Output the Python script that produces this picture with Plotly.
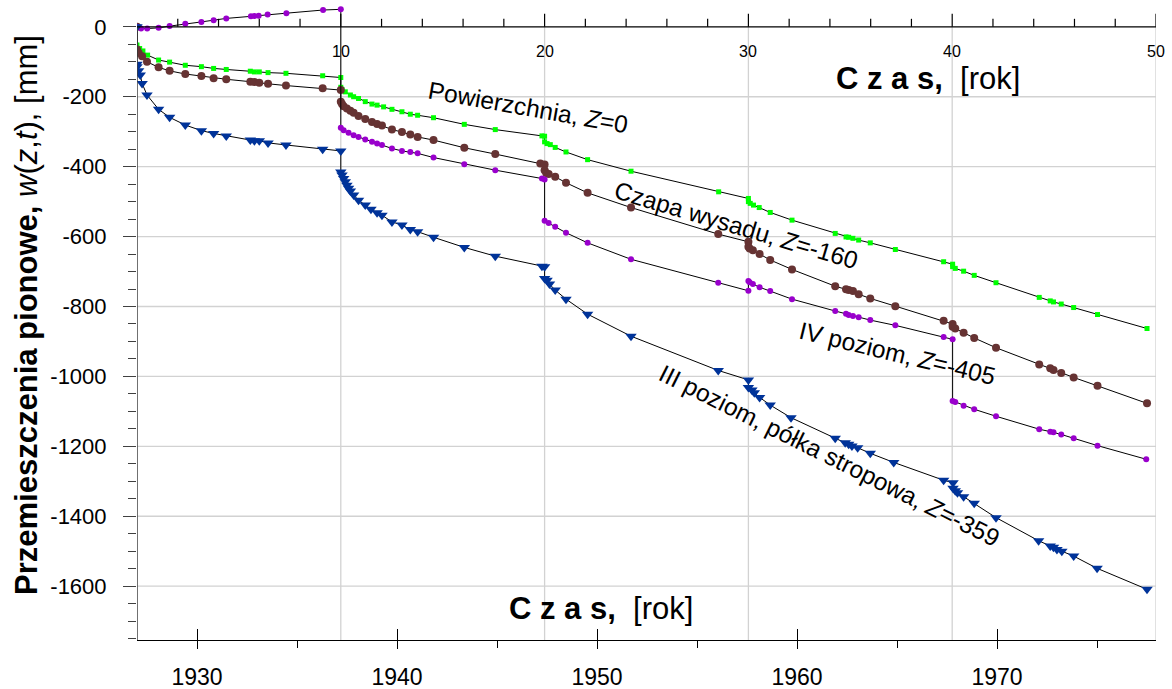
import plotly.graph_objects as go

# ---------------- data (t = years since start, w = vertical displacement [mm]) -------------
t_pow = [0, 0.0, 0.13, 0.29, 0.52, 1.06, 1.6, 2.37, 3.16, 3.76, 4.38, 5.56, 5.76, 6.0, 6.43, 7.31, 9.11, 10.0,
         10.0, 10.06, 10.22, 10.47, 10.63, 10.87, 11.2, 11.53, 11.78, 12.1, 12.51, 13.0, 13.41, 13.77, 14.55,
         16.06, 17.58, 19.87, 20.0,
         20.0, 20.12, 20.28, 20.52, 21.05, 22.11, 24.24, 28.54, 30.0,
         30.0, 30.09, 30.25, 30.53, 31.07, 32.14, 34.26, 34.79, 34.92, 35.13, 35.41, 35.98, 37.21, 39.58, 40.02,
         40.02, 40.15, 40.56, 41.08, 42.15, 44.27, 44.81, 44.97, 45.35, 45.96, 47.13, 49.56]
w_pow = [0, -52, -62, -69, -81, -95, -101, -110, -114, -119, -122, -127, -129, -129, -131, -133, -140, -145,
         -173, -179, -186, -195, -200, -205, -214, -221, -224, -229, -236, -243, -250, -253, -260,
         -279, -294, -312, -313,
         -329, -334, -337, -345, -358, -380, -413, -472, -491,
         -500, -505, -510, -517, -531, -553, -591, -601, -602, -605, -610, -618, -637, -672, -679,
         -686, -691, -699, -711, -732, -774, -784, -787, -793, -803, -823, -863]

t_cz = [0, 0.0, 0.08, 0.25, 0.49, 1.06, 1.6, 2.37, 3.16, 3.76, 4.38, 5.56, 5.76, 6.0, 6.43, 7.31, 9.11, 10.0,
        10.0, 10.06, 10.14, 10.3, 10.47, 10.63, 10.87, 11.2, 11.53, 11.78, 12.02, 12.51, 13.0, 13.41, 13.77, 14.55,
        16.06, 17.58, 19.79, 20.0,
        20.0, 20.08, 20.2, 20.52, 21.05, 22.11, 24.24, 28.52, 30.0,
        30.0, 30.06, 30.22, 30.55, 31.07, 32.14, 34.26, 34.79, 34.92, 35.13, 35.41, 35.98, 37.21, 39.58, 40.02,
        40.02, 40.15, 40.56, 41.08, 42.15, 44.27, 44.81, 44.97, 45.35, 45.96, 47.13, 49.56]
w_cz = [0, -65, -74, -84, -100, -116, -126, -135, -141, -147, -150, -157, -158, -160, -163, -168, -176, -181,
        -214, -221, -227, -234, -240, -246, -255, -264, -272, -278, -282, -294, -301, -308, -315, -324,
        -346, -364, -391, -394,
        -410, -418, -421, -429, -446, -475, -517, -593, -615,
        -629, -634, -639, -650, -667, -694, -742, -751, -753, -756, -765, -777, -799, -841, -850,
        -858, -863, -875, -890, -918, -966, -977, -982, -990, -1003, -1027, -1077]

t_iv = [0, 0.2, 0.5, 1.06, 1.6, 2.37, 3.16, 3.76, 4.38, 5.59, 5.76, 5.97, 6.41, 7.33, 9.13, 10.0,
        10.0, 10.14, 10.38, 10.63, 10.87, 11.2, 11.53, 11.78, 12.02, 12.51, 13.0, 13.41, 13.77, 14.55,
        16.06, 17.58, 19.87, 20.0,
        20.0, 20.2, 20.52, 21.05, 22.11, 24.24, 28.52, 30.0,
        30.0, 30.06, 30.22, 30.55, 31.07, 32.14, 34.26, 34.79, 34.92, 35.13, 35.41, 35.98, 37.21, 39.58, 40.02,
        40.02, 40.15, 40.56, 41.08, 42.15, 44.27, 44.81, 44.97, 45.35, 45.96, 47.13, 49.52]
w_iv = [0, -5, -5, -3, 2, 9, 14, 19, 24, 30, 31, 32, 35, 39, 48, 50,
        -289, -296, -303, -310, -315, -322, -329, -334, -338, -348, -355, -358, -362, -374,
        -393, -410, -434, -437,
        -555, -561, -572, -589, -618, -665, -732, -755,
        -727, -731, -736, -745, -756, -779, -813, -821, -824, -827, -831, -839, -854, -887, -894,
        -1070, -1073, -1084, -1094, -1114, -1151, -1158, -1160, -1166, -1177, -1198, -1237]

t_iii = [0, 0.0, 0.0, 0.08, 0.16, 0.25, 0.49, 1.06, 1.6, 2.37, 3.16, 3.76, 4.38, 5.56, 5.76, 6.0, 6.43, 7.31, 9.11, 10.0,
         10.0, 10.06, 10.14, 10.22, 10.3, 10.38, 10.47, 10.63, 10.87, 11.2, 11.48, 11.78, 12.02, 12.51, 13.0, 13.41,
         13.77, 14.55, 16.06, 17.58, 19.87, 20.0,
         20.0, 20.12, 20.24, 20.52, 21.05, 22.11, 24.24, 28.52, 30.0,
         30.0, 30.17, 30.29, 30.55, 31.07, 32.09, 34.26, 34.75, 34.92, 35.08, 35.36, 35.98, 37.13, 39.58, 40.04,
         40.04, 40.15, 40.26, 40.56, 41.08, 42.15, 44.24, 44.81, 44.97, 45.14, 45.38, 45.96, 47.11, 49.56]
w_iii = [0, -107, -114, -126, -138, -162, -195, -236, -259, -281, -297, -305, -312, -324, -326, -326, -332, -338, -350, -355,
         -415, -424, -434, -443, -453, -462, -470, -481, -496, -510, -522, -532, -539, -558, -567, -580,
         -586, -602, -631, -656, -685, -686,
         -720, -725, -736, -753, -779, -822, -885, -983, -1010,
         -1032, -1039, -1047, -1060, -1082, -1118, -1177, -1190, -1194, -1199, -1204, -1220, -1246, -1297, -1304,
         -1320, -1327, -1333, -1344, -1363, -1404, -1470, -1485, -1489, -1495, -1500, -1514, -1549, -1609]

series_names = ["Powierzchnia, Z=0", "Czapa wysadu, Z=-160", "IV poziom, Z=-405",
                "III poziom, półka stropowa, Z=-359"]
label_texts = ["Powierzchnia, <i>Z</i>=0", "Czapa wysadu, <i>Z</i>=-160", "IV poziom, <i>Z</i>=-405",
               "III poziom, półka stropowa, <i>Z</i>=-359"]

# axis ticks
t_ticks = [10, 20, 30, 40, 50]
t_ticklabels = ["10", "20", "30", "40", "50"]
t_minor = [2, 4, 6, 8, 12, 14, 16, 18, 22, 24, 26, 28, 32, 34, 36, 38, 42, 44, 46, 48]
year_ticks = [1930, 1940, 1950, 1960, 1970]
year_minor = [1935, 1945, 1955, 1965, 1975]
w_ticks = [0, -200, -400, -600, -800, -1000, -1200, -1400, -1600]
w_ticklabels = ["0", "-200", "-400", "-600", "-800", "-1000", "-1200", "-1400", "-1600"]
w_minor = [v for v in range(-1750, 0, 50) if v % 200 != 0]

# ---------------- styling -------------
FONT = "Liberation Sans, Arial, sans-serif"
T_RANGE = [0, 50]
YEAR_RANGE = [1927, 1977.95]
W_RANGE = [-1754, 76.7]
GRID = "#d2d2d2"

fig = go.Figure()

styles = [
    dict(symbol="square", size=5, color="#00ff00"),
    dict(symbol="circle", size=8, color="#663333"),
    dict(symbol="circle", size=6, color="#9900cc"),
    dict(symbol="triangle-down", size=10, color="#003399"),
]
for (tx, wy), name, st in zip([(t_pow, w_pow), (t_cz, w_cz), (t_iv, w_iv), (t_iii, w_iii)], series_names, styles):
    fig.add_trace(go.Scatter(
        x=tx, y=wy, name=name, mode="lines+markers",
        line=dict(color="black", width=1),
        marker=dict(symbol=st["symbol"], size=st["size"], color=st["color"], line=dict(width=0)),
        showlegend=False, xaxis="x", yaxis="y"))

# invisible traces so the calendar-year axes get drawn
for ax in ["x2", "x3"]:
    fig.add_trace(go.Scatter(x=YEAR_RANGE, y=[W_RANGE[0], W_RANGE[0]], xaxis=ax, yaxis="y",
                             mode="markers", marker=dict(opacity=0), hoverinfo="skip", showlegend=False))

shapes = []
# grid lines (only below the zero line)
for tv in t_ticks:
    shapes.append(dict(type="line", xref="x", yref="y", x0=tv, x1=tv, y0=0, y1=W_RANGE[0],
                       line=dict(color=GRID, width=1.3), layer="below"))
for wv in w_ticks[1:]:
    shapes.append(dict(type="line", xref="x", yref="y", x0=T_RANGE[0], x1=T_RANGE[1], y0=wv, y1=wv,
                       line=dict(color=GRID, width=1.3), layer="below"))
# left axis line from zero down
shapes.append(dict(type="line", xref="x", yref="y", x0=0, x1=0, y0=0, y1=W_RANGE[0],
                   line=dict(color="#404040", width=1.5)))
# top "time since start" axis drawn along w = 0
shapes.append(dict(type="line", xref="x", yref="y", x0=T_RANGE[0], x1=T_RANGE[1], y0=0, y1=0,
                   line=dict(color="black", width=1.3)))
for tv in t_ticks:
    shapes.append(dict(type="line", xref="x", yref="y", ysizemode="pixel", yanchor=0,
                       x0=tv, x1=tv, y0=0, y1=13, line=dict(color="black", width=1.2)))
for tv in t_minor:
    shapes.append(dict(type="line", xref="x", yref="y", ysizemode="pixel", yanchor=0,
                       x0=tv, x1=tv, y0=0, y1=8, line=dict(color="black", width=1.2)))

fig.update_layout(
    width=1172, height=689,
    margin=dict(l=137, r=16, t=0, b=49, autoexpand=False),
    paper_bgcolor="white", plot_bgcolor="white",
    font=dict(family=FONT, color="black"),
    shapes=shapes,
    xaxis=dict(range=T_RANGE, visible=False, showgrid=False, zeroline=False, automargin=False),
    xaxis2=dict(range=YEAR_RANGE, overlaying="x", anchor="y", side="bottom", automargin=False,
                showgrid=False, zeroline=False, showline=True, linecolor="black", linewidth=1.3,
                tickmode="array", tickvals=year_ticks, ticks="outside", ticklen=8, tickwidth=1.2,
                tickcolor="black", tickfont=dict(size=23, family=FONT), ticklabelstandoff=8,
                minor=dict(tickmode="array", tickvals=year_minor, ticks="outside", ticklen=7,
                           tickwidth=1.2, tickcolor="black", showgrid=False)),
    xaxis3=dict(range=YEAR_RANGE, overlaying="x", anchor="y", side="bottom", automargin=False,
                showgrid=False, zeroline=False, showline=False, showticklabels=False,
                tickmode="array", tickvals=year_ticks, ticks="inside", ticklen=11, tickwidth=1.2,
                tickcolor="black"),
    yaxis=dict(range=W_RANGE, showgrid=False, zeroline=False, showline=False, automargin=False,
               tickmode="array", tickvals=w_ticks, ticktext=w_ticklabels,
               ticks="outside", ticklen=13, tickwidth=1.3, tickcolor="#404040",
               tickfont=dict(size=22, family=FONT), ticklabelstandoff=12,
               minor=dict(tickmode="array", tickvals=w_minor, ticks="outside", ticklen=8,
                          tickwidth=1.3, tickcolor="#404040", showgrid=False)),
)

annotations = []
# top axis tick labels (below the zero line)
for tv, tl in zip(t_ticks, t_ticklabels):
    annotations.append(dict(text=tl, x=tv, y=0, xref="x", yref="y", showarrow=False,
                            xanchor="center", yanchor="top", yshift=-14,
                            font=dict(size=16, family=FONT, color="black")))
# rotated series labels (position in data coordinates, angle in degrees clockwise)
label_pos = [(19.2, -230, 10), (29.43, -567, 16.5), (37.33, -934, 13.5), (33.96, -1227, 26.5)]
for txt, (lx, ly, ang) in zip(label_texts, label_pos):
    annotations.append(dict(text=txt, x=lx, y=ly, xref="x", yref="y", textangle=ang,
                            showarrow=False, xanchor="center", yanchor="middle",
                            font=dict(size=24.5, family=FONT, color="black")))
# axis titles
axis_title = "<b>C z a s,</b>&nbsp;&nbsp;[rok]"
annotations.append(dict(text=axis_title, x=0.7766, y=0.8766, xref="paper", yref="paper",
                        showarrow=False, xanchor="center", yanchor="middle",
                        font=dict(size=31, family=FONT)))
annotations.append(dict(text=axis_title, x=0.4555, y=0.05, xref="paper", yref="paper",
                        showarrow=False, xanchor="center", yanchor="middle",
                        font=dict(size=31, family=FONT)))
annotations.append(dict(text="<b>Przemieszczenia pionowe,</b> <i>w</i>(<i>z</i>,<i>t</i>), [mm]",
                        x=-0.1079, y=0.508, xref="paper", yref="paper", textangle=-90,
                        showarrow=False, xanchor="center", yanchor="middle",
                        font=dict(size=31, family=FONT)))
fig.update_layout(annotations=annotations)

fig.write_html("out.html")
